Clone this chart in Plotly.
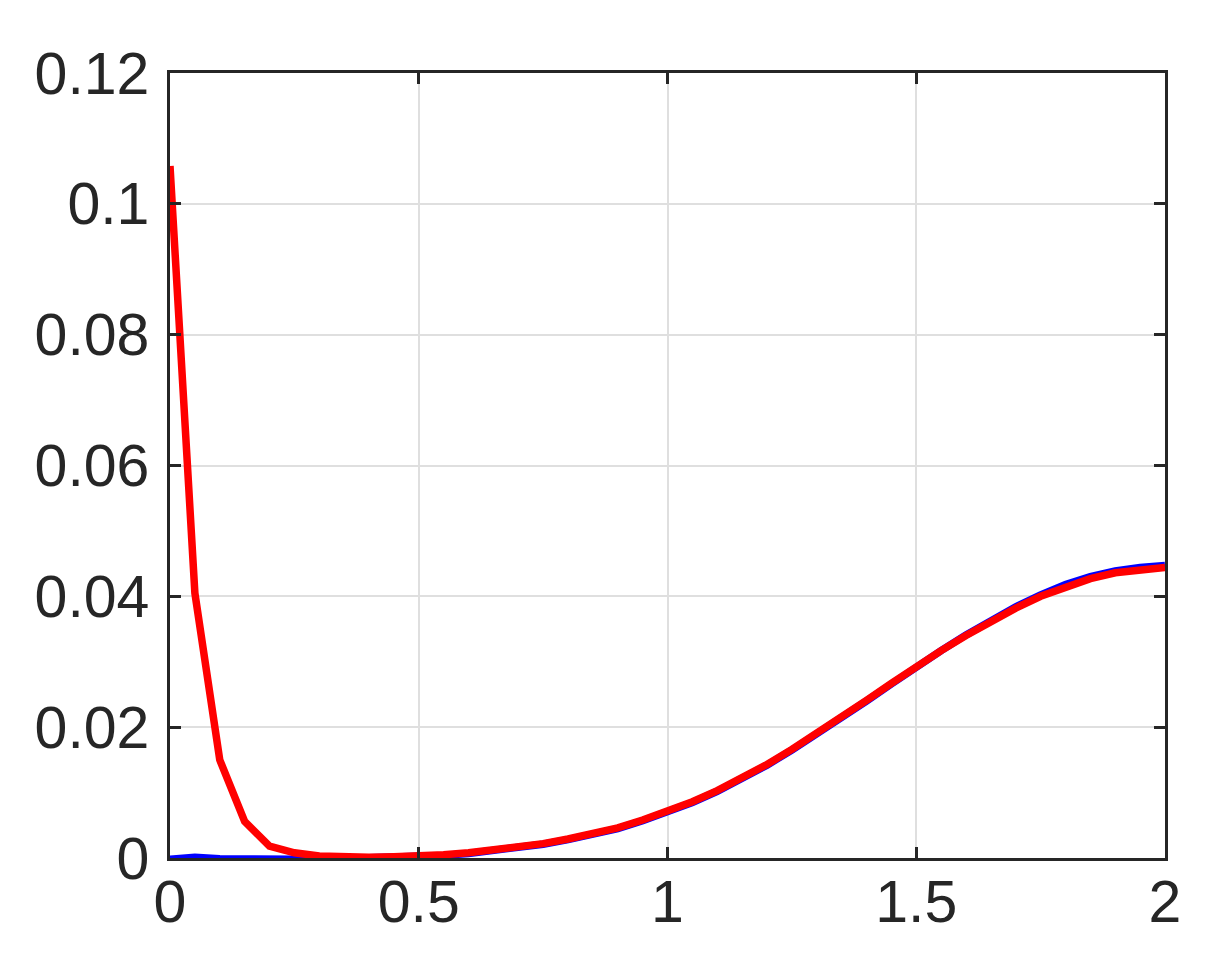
"""Curva vermelha x curva azul, estilo MATLAB."""
import plotly.graph_objects as go

# eixo x compartilhado (passo 0.05)
x_vals = [round(i * 0.05, 2) for i in range(41)]

# curva azul (quase nula ate ~0.4, depois cresce)
azul = [
    -0.0002, 0.0001, -0.0001, -0.0002, -0.0002, -0.0002, -0.0002, -0.0001,
    0.0000, 0.0001, 0.0002, 0.0004, 0.0007, 0.0011, 0.0015, 0.0021,
    0.0028, 0.0036, 0.0045, 0.0057, 0.0070, 0.0085, 0.0102, 0.0121,
    0.0142, 0.0165, 0.0189, 0.0214, 0.0240, 0.0266, 0.0293, 0.0317,
    0.0341, 0.0363, 0.0384, 0.0402, 0.0418, 0.0430, 0.0439, 0.0444,
    0.0447,
]

# curva vermelha (decai rapido no inicio e depois acompanha a azul)
vermelho = [
    0.1058, 0.0405, 0.0150, 0.0056, 0.0018, 0.0008, 0.0003, 0.0001,
    0.0001, 0.0002, 0.0003, 0.0005, 0.0008, 0.0012, 0.0016, 0.0022,
    0.0029, 0.0037, 0.0046, 0.0058, 0.0071, 0.0086, 0.0103, 0.0122,
    0.0143, 0.0166, 0.0190, 0.0215, 0.0241, 0.0267, 0.0293, 0.0317,
    0.0340, 0.0362, 0.0382, 0.0400, 0.0415, 0.0427, 0.0436, 0.0441,
    0.0444,
]

x_ticks = [0, 0.5, 1, 1.5, 2]
x_labels = ['0', '0.5', '1', '1.5', '2']
y_ticks = [0, 0.02, 0.04, 0.06, 0.08, 0.1, 0.12]
y_labels = ['0', '0.02', '0.04', '0.06', '0.08', '0.1', '0.12']

FG = '#262626'
GRID = '#dfdfdf'

fig = go.Figure()
fig.add_trace(go.Scatter(x=x_vals, y=azul, mode='lines', cliponaxis=False,
                         line={'color': '#0000ff', 'width': 7.5}))
fig.add_trace(go.Scatter(x=x_vals, y=vermelho, mode='lines', cliponaxis=False,
                         line={'color': '#ff0000', 'width': 7.5}))

eixo = dict(
    showline=True, linecolor=FG, linewidth=2.5, mirror='ticks',
    ticks='inside', ticklen=11, tickwidth=2.5, tickcolor=FG,
    showgrid=True, gridcolor=GRID, gridwidth=2, zeroline=False,
    tickfont={'family': 'Liberation Sans, Arial, sans-serif', 'size': 59, 'color': FG},
)
# a pagina tem 8px de margem no body, por isso as margens descontam isso
fig.update_layout(
    width=1209, height=960,
    paper_bgcolor='white', plot_bgcolor='white',
    showlegend=False,
    margin={'l': 162, 'r': 52, 't': 65, 'b': 110},
    xaxis=dict(eixo, range=[0, 2], tickvals=x_ticks, ticktext=x_labels,
               ticklabelstandoff=-10),
    yaxis=dict(eixo, range=[0, 0.12], tickvals=y_ticks, ticktext=y_labels,
               ticklabelstandoff=6),
)
fig.write_html("out.html")
